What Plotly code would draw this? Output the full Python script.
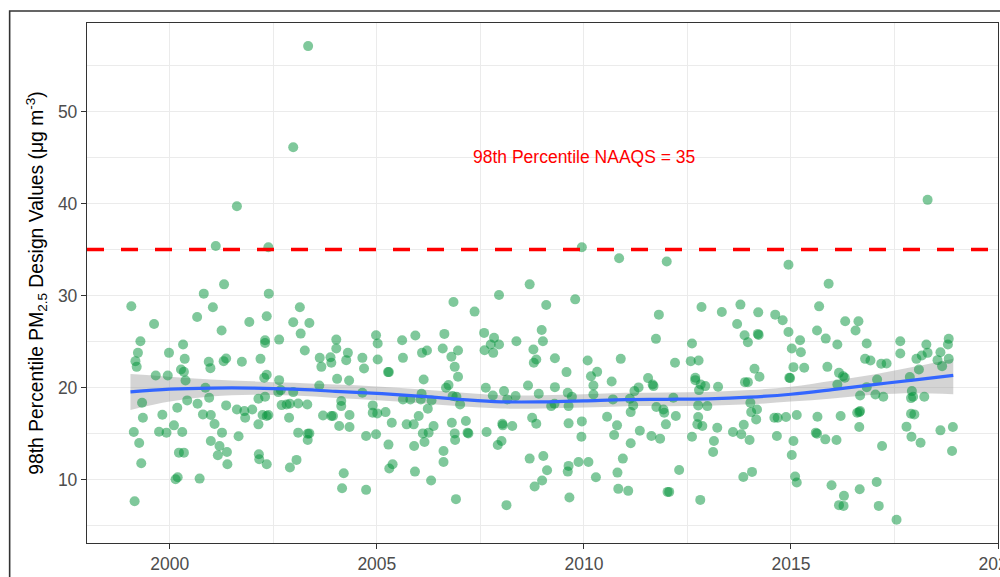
import plotly.graph_objects as go

# ---- data: 98th percentile PM2.5 design values (year, value) ----
years = [
    2003.34, 2002.98, 2001.62, 2001.11, 2002.38, 2009.95, 2010.85, 2012.00, 2018.30, 2014.94,
    # 1999-2005 block
    1999.07, 1999.62, 1999.29, 1999.23, 1999.17, 1999.20, 1999.33, 1999.35, 1999.13, 1999.26,
    1999.31, 1999.15, 1999.66, 1999.82, 1999.74, 1999.92, 1999.98, 1999.95, 2000.10, 2000.18,
    2000.22, 2000.34, 2000.14, 2000.19, 2000.30, 2000.32, 2000.36, 2000.27, 2000.34, 2000.38,
    2000.42, 2000.66, 2000.82, 2001.04, 2001.31, 2001.25, 2000.94, 2000.98, 2000.86, 2000.95,
    2000.67, 2000.80, 2000.99, 2001.08, 2001.26, 2000.99, 2001.20, 2001.16, 2001.38, 2001.39,
    2000.72, 2001.36, 2001.30, 2001.36, 2001.66, 2001.62, 2001.80, 2001.82, 2001.99, 2001.74,
    2001.92, 2002.19, 2002.30, 2002.30, 2002.34, 2002.39, 2002.64, 2002.28, 2002.34, 2002.64,
    2002.68, 2002.62, 2002.30, 2002.14, 2002.24, 2002.34, 2002.38, 2002.14, 2002.15, 2002.16,
    2002.34, 2002.90, 2003.06, 2002.88, 2002.70, 2002.82, 2002.90, 2003.10, 2002.98, 2003.10,
    2003.33, 2003.33, 2003.37, 2003.32, 2002.98, 2003.16, 2003.37, 2003.14, 2003.26, 2003.62,
    2003.66, 2003.88, 2003.90, 2004.02, 2004.02, 2004.30, 2004.26, 2004.04, 2004.33, 2003.61,
    2004.14, 2004.14, 2004.34, 2003.94, 2003.90, 2003.70, 2004.09, 2004.34, 2004.74, 2004.98,
    2004.90, 2004.90, 2005.01, 2004.65, 2004.69, 2004.98, 2005.02, 2005.02, 2004.65, 2004.20,
    2004.16, 2004.74,
    # 2005-2012 block
    2008.69, 2007.95, 2006.85, 2009.09, 2009.79, 2007.36, 2011.81, 2011.74, 2008.98, 2009.01,
    2008.37, 2007.59, 2007.83, 2007.75, 2007.95, 2007.81, 2007.60, 2008.78, 2008.85, 2008.79,
    2009.30, 2009.58, 2010.09, 2010.32, 2010.17, 2010.23, 2010.89, 2010.67, 2011.55, 2011.66,
    2011.68, 2012.20, 2005.61, 2005.93, 2006.63, 2006.59, 2006.96, 2006.09, 2006.21, 2006.80,
    2006.88, 2006.96, 2005.63, 2005.29, 2005.27, 2006.13, 2006.67, 2006.73, 2006.08, 2005.63,
    2005.81, 2006.06, 2006.32, 2007.01, 2006.23, 2006.83, 2006.92, 2007.63, 2007.80, 2008.07,
    2008.15, 2008.35, 2008.65, 2008.91, 2009.30, 2009.61, 2009.71, 2009.63, 2009.21, 2009.29,
    2010.23, 2010.70, 2011.11, 2011.22, 2011.32, 2011.19, 2011.13, 2011.75, 2011.94, 2011.92,
    2012.16, 2012.22, 2011.98, 2011.84, 2011.63, 2011.35, 2011.13, 2010.94, 2010.81, 2010.83,
    2011.07, 2010.56, 2010.80, 2010.73, 2010.29, 2010.11, 2009.87, 2009.63, 2009.61, 2009.65,
    2009.95, 2009.94, 2009.63, 2008.75, 2008.85, 2008.27, 2008.04, 2008.03, 2007.92, 2008.01,
    2007.65, 2006.89, 2006.88, 2007.15, 2007.19, 2007.21, 2006.81, 2006.37, 2006.25, 2006.11,
    2006.15, 2005.90, 2006.01, 2005.89, 2005.72, 2005.36, 2005.28, 2005.21, 2006.61, 2006.61,
    2006.31, 2005.92, 2005.38, 2005.30, 2006.91, 2008.13, 2008.69, 2009.02, 2009.11, 2008.99,
    2008.81, 2012.02, 2012.06,
    # 2012-2019 block
    2015.91, 2012.84, 2013.33, 2013.78, 2014.21, 2013.70, 2014.62, 2014.80, 2013.88, 2013.96,
    2014.20, 2014.22, 2014.94, 2015.22, 2015.63, 2015.68, 2015.84, 2016.12, 2016.31, 2016.63,
    2016.56, 2016.83, 2015.02, 2015.24, 2012.61, 2012.58, 2012.77, 2014.12, 2014.24, 2013.89,
    2013.96, 2013.24, 2012.93, 2012.78, 2012.69, 2012.69, 2012.82, 2015.06, 2015.32, 2014.96,
    2014.98, 2015.88, 2016.16, 2016.26, 2016.30, 2016.12, 2016.79, 2016.92, 2017.18, 2017.31,
    2017.08, 2017.64, 2017.64, 2018.03, 2018.16, 2018.27, 2018.30, 2018.61, 2018.81, 2018.79,
    2018.54, 2018.81, 2018.65, 2018.09, 2017.87, 2016.67, 2016.83, 2017.04, 2017.23, 2017.92,
    2017.95, 2018.22, 2017.90, 2014.02, 2014.04, 2014.18, 2014.16, 2012.76, 2012.98, 2012.76,
    2012.74, 2012.86, 2013.22, 2013.60, 2013.80, 2013.86, 2014.00, 2013.14, 2012.61, 2013.12,
    2014.60, 2014.68, 2014.88, 2015.14, 2015.64, 2015.60, 2015.63, 2015.83, 2016.10, 2016.20,
    2016.60, 2016.67, 2016.65, 2016.65, 2014.66, 2015.06, 2015.02, 2015.10, 2015.14, 2014.06,
    2013.85, 2012.30, 2012.81, 2015.98, 2016.28, 2016.16, 2016.27, 2016.66, 2017.07, 2017.12,
    2017.55, 2017.20, 2017.90, 2017.98, 2017.79, 2017.91, 2018.13, 2018.61, 2018.91, 2018.89,
]
values = [
    57.09, 46.12, 39.71, 35.40, 35.25, 35.25, 34.06, 33.70, 40.40, 33.35,
    28.85, 26.93, 25.05, 23.79, 22.89, 22.27, 18.38, 16.75, 15.20, 14.01,
    11.81, 7.69, 21.34, 17.08, 15.23, 15.13, 23.79, 21.34, 15.92, 17.83,
    12.96, 12.96, 10.07, 10.29, 15.20, 24.69, 23.14, 21.99, 21.73, 20.79,
    18.63, 27.69, 30.22, 28.74, 31.23, 26.21, 22.82, 22.13, 20.00, 18.92,
    18.27, 17.11, 17.04, 16.07, 15.13, 14.22, 13.68, 12.67, 13.03, 11.70,
    10.14, 18.09, 22.89, 23.18, 14.73, 17.65, 17.47, 16.75, 17.65, 22.82,
    27.15, 23.14, 25.16, 24.87, 27.76, 30.22, 25.23, 21.08, 21.41, 20.83,
    19.75, 19.53, 19.03, 18.81, 17.04, 16.93, 17.04, 16.03, 12.78, 12.24,
    11.70, 11.34, 12.17, 16.75, 18.12, 18.19, 18.27, 18.30, 19.53, 15.13,
    15.02, 14.33, 15.05, 18.19, 27.11, 25.88, 27.04, 28.74, 24.04, 23.25,
    22.27, 23.32, 22.71, 25.23, 24.26, 23.79, 23.00, 20.97, 20.79, 20.25,
    18.56, 18.01, 17.04, 16.93, 16.93, 17.00, 15.85, 15.74, 14.77, 14.95,
    18.09, 17.29, 17.22, 23.25, 22.09, 25.70, 23.07, 24.80, 19.46, 10.72,
    9.10, 8.92,
    31.23, 30.07, 29.31, 28.99, 29.60, 28.27, 27.94, 25.31, 26.28, 25.05,
    25.05, 25.96, 25.42, 24.69, 24.69, 23.79, 24.08, 24.15, 23.07, 22.71,
    23.21, 21.70, 22.96, 21.73, 21.26, 20.25, 23.14, 20.69, 21.05, 20.36,
    20.18, 22.71, 25.16, 25.67, 25.85, 24.26, 24.04, 23.79, 24.04, 23.36,
    22.27, 21.19, 23.25, 21.70, 21.70, 20.90, 20.00, 20.29, 19.35, 18.74,
    18.74, 18.74, 18.63, 18.19, 17.73, 19.10, 19.03, 20.00, 19.17, 19.64,
    18.74, 19.10, 20.25, 19.35, 20.07, 19.46, 19.03, 18.01, 18.01, 18.27,
    19.28, 18.74, 18.81, 19.64, 20.04, 18.09, 17.36, 17.91, 17.29, 17.65,
    18.92, 16.93, 16.03, 14.48, 14.77, 15.34, 13.97, 12.31, 10.79, 9.03,
    8.81, 16.86, 15.92, 14.87, 10.29, 11.95, 11.95, 11.52, 10.90, 8.09,
    16.35, 14.69, 16.14, 16.75, 16.10, 15.85, 15.92, 16.10, 13.79, 14.22,
    15.20, 14.33, 15.05, 16.39, 15.13, 15.05, 16.21, 15.85, 15.13, 15.05,
    14.12, 13.68, 16.93, 16.03, 16.03, 16.21, 13.83, 17.36, 13.14, 11.95,
    9.93, 10.90, 11.70, 11.23, 7.91, 7.26, 12.31, 12.60, 11.05, 9.93,
    9.28, 8.70, 8.70,
    31.30, 28.77, 28.23, 29.03, 28.19, 26.93, 27.94, 27.33, 25.70, 24.95,
    25.85, 25.74, 26.06, 25.16, 26.21, 28.84, 25.34, 24.69, 27.22, 27.22,
    26.21, 24.80, 24.26, 23.86, 24.80, 22.89, 22.96, 22.06, 21.19, 20.61,
    20.61, 20.11, 20.18, 19.75, 21.08, 20.83, 20.36, 22.24, 22.17, 21.08,
    21.05, 22.27, 21.62, 21.26, 21.08, 20.36, 23.14, 22.96, 22.60, 22.64,
    20.90, 25.05, 23.72, 23.14, 23.50, 24.69, 23.79, 23.86, 25.31, 24.69,
    23.00, 23.14, 22.35, 21.99, 21.16, 19.17, 20.07, 19.28, 19.03, 19.64,
    19.03, 19.03, 18.88, 18.38, 17.36, 17.65, 16.57, 18.09, 18.01, 16.82,
    16.03, 15.85, 15.67, 15.20, 14.95, 15.99, 14.33, 14.22, 14.69, 13.03,
    16.75, 16.75, 16.82, 17.04, 16.86, 15.13, 15.02, 14.40, 14.33, 16.93,
    17.29, 17.47, 17.36, 15.74, 14.77, 14.22, 12.71, 10.36, 9.71, 10.87,
    10.32, 11.08, 7.83, 9.42, 8.27, 7.26, 7.18, 8.99, 9.78, 7.18,
    5.67, 13.68, 17.18, 17.11, 15.78, 14.69, 14.04, 15.38, 15.74, 13.14,
]

# loess smooth and its confidence band
smooth_x = [1999.05, 2000, 2001, 2002, 2003, 2004, 2005, 2006, 2007, 2008, 2009,
            2010, 2011, 2012, 2013, 2014, 2015, 2016, 2017, 2018, 2018.92]
smooth_y = [19.55, 19.85, 19.97, 19.97, 19.85, 19.62, 19.40, 19.10, 18.75, 18.48, 18.47,
            18.58, 18.72, 18.75, 18.80, 18.98, 19.30, 19.80, 20.35, 20.85, 21.35]
smooth_lo = [17.60, 18.50, 19.05, 19.25, 19.15, 18.90, 18.65, 18.35, 18.00, 17.75, 17.75,
             17.85, 18.00, 18.00, 18.05, 18.20, 18.50, 18.85, 19.25, 19.40, 19.30]
smooth_hi = [21.50, 21.20, 20.90, 20.70, 20.55, 20.35, 20.15, 19.85, 19.50, 19.20, 19.20,
             19.30, 19.45, 19.50, 19.55, 19.75, 20.10, 20.75, 21.45, 22.30, 23.15]

naaqs = 35
naaqs_label = "98th Percentile NAAQS = 35"
x_ticks = [2000, 2005, 2010, 2015, 2020]
y_ticks = [10, 20, 30, 40, 50]

FONT = "Liberation Sans, Arial, Helvetica, sans-serif"

fig = go.Figure()

# confidence band
fig.add_trace(go.Scatter(x=smooth_x, y=smooth_lo, mode="lines",
                         line=dict(width=0, shape="spline"), hoverinfo="skip",
                         showlegend=False))
fig.add_trace(go.Scatter(x=smooth_x, y=smooth_hi, mode="lines",
                         line=dict(width=0, shape="spline"), fill="tonexty",
                         fillcolor="rgba(153,153,153,0.42)", hoverinfo="skip",
                         showlegend=False))

# points
fig.add_trace(go.Scatter(x=years, y=values, mode="markers",
                         marker=dict(size=10, color="rgba(0,145,55,0.5)", line=dict(width=0)),
                         showlegend=False))

# smooth line
fig.add_trace(go.Scatter(x=smooth_x, y=smooth_y, mode="lines",
                         line=dict(color="#3366FF", width=3.2, shape="spline"),
                         showlegend=False))

# NAAQS reference line
fig.add_shape(type="line", xref="paper", x0=0, x1=1, yref="y", y0=naaqs, y1=naaqs,
              line=dict(color="#FF0000", width=3.5, dash="17px,17px"), layer="above")

fig.add_annotation(x=2010, y=45, text=naaqs_label, showarrow=False,
                   font=dict(color="#FF0000", size=17.5, family=FONT))

# outer plot border (partly off-page)
L, R, T, B = 87.3, 997.7, 23.0, 543.5
W, H = R - L, B - T
fig.add_shape(type="rect", xref="paper", yref="paper",
              x0=(10 - L) / W, x1=(1012 - L) / W,
              y0=(B - 600) / H, y1=(B - 11) / H,
              line=dict(color="#333333", width=1.6), fillcolor="rgba(0,0,0,0)",
              layer="above")

axis_common = dict(
    showline=True, mirror=True, linecolor="#333333", linewidth=1.3,
    ticks="outside", ticklen=5, tickcolor="#333333", tickwidth=1.2,
    tickfont=dict(size=17.5, color="#4D4D4D", family=FONT),
    showgrid=True, gridcolor="#EBEBEB", gridwidth=1.3, zeroline=False,
    ticklabeloverflow="allow",
)

fig.update_xaxes(range=[1998.0, 2020.0], tickvals=x_ticks, **axis_common,
                 minor=dict(tickvals=[1997.5, 2002.5, 2007.5, 2012.5, 2017.5],
                            showgrid=True, gridcolor="#EBEBEB", gridwidth=0.7, ticks=""))
fig.update_yaxes(range=[3.15, 59.6], tickvals=y_ticks, **axis_common,
                 minor=dict(tickvals=[5, 15, 25, 35, 45, 55], showgrid=True,
                            gridcolor="#EBEBEB", gridwidth=0.7, ticks=""),
                 title=dict(text="98th Percentile PM<sub>2.5</sub> Design Values (μg m<sup>-3</sup>)",
                            font=dict(size=19.3, color="#000000", family=FONT), standoff=9))

fig.update_layout(
    width=1000, height=577,
    margin=dict(l=L, r=1000 - R, t=T, b=577 - B, autoexpand=False),
    paper_bgcolor="white", plot_bgcolor="white",
    font=dict(family=FONT),
    showlegend=False,
)

fig.write_html("out.html", config={"displayModeBar": False},
               post_script="document.body.style.margin='0';")
